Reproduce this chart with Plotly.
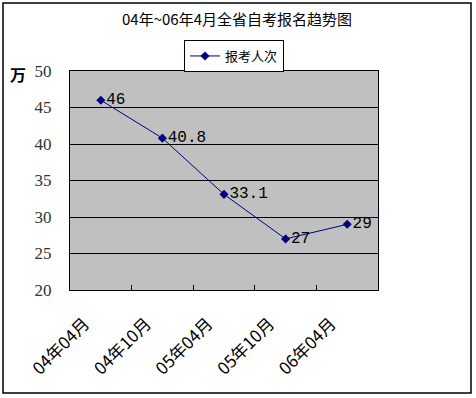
import plotly.graph_objects as go

categories = ["04年04月", "04年10月", "05年04月", "05年10月", "06年04月"]
values = [46, 40.8, 33.1, 27, 29]
labels = ["46", "40.8", "33.1", "27", "29"]
series_name = "报考人次"
title = "04年~06年4月全省自考报名趋势图"
y_ticks = [20, 25, 30, 35, 40, 45, 50]

W, H = 476, 398
L, R, T, B = 70, 378, 71, 290

fig = go.Figure()
fig.add_trace(go.Scatter(
    x=categories, y=values, mode="lines+markers+text", name=series_name,
    text=labels, textposition="middle right",
    textfont=dict(family="Liberation Mono, Noto Sans CJK SC", size=16, color="black"),
    line=dict(color="#000080", width=1),
    marker=dict(symbol="diamond", size=7, color="#000080"),
    cliponaxis=False,
))

def px(x):
    return (x - L) / (R - L)

def py(y):
    return (B - y) / (B - T)

pad = "\u00a0" * 6

fig.update_layout(
    width=W, height=H,
    margin=dict(l=L, r=W - R, t=T, b=H - B, pad=0),
    paper_bgcolor="white", plot_bgcolor="#C0C0C0",
    title=dict(text=title, x=237 / W, xanchor="center", y=1 - 20 / H, yanchor="middle",
               font=dict(family="Noto Sans CJK SC", size=15, color="black")),
    showlegend=True,
    legend=dict(orientation="h", x=px(234), xanchor="center", y=py(56), yanchor="middle",
                bordercolor="black", borderwidth=1, bgcolor="white",
                font=dict(family="Noto Sans CJK SC", size=13, color="black"),
                itemwidth=30, tracegroupgap=0),
    xaxis=dict(type="category", range=[-0.5, 4.5], tickson="boundaries", ticks="inside",
               ticklen=5, tickcolor="black", showgrid=False, showline=True, linecolor="black",
               linewidth=1, mirror=True, tickangle=-45, ticklabelstandoff=0,
               tickvals=categories, ticktext=[c + pad for c in categories],
               tickfont=dict(family="Noto Sans CJK SC", size=17, color="black")),
    yaxis=dict(range=[20, 50], tickvals=y_ticks, showgrid=True, gridcolor="black", gridwidth=1,
               showline=True, linecolor="black", linewidth=1, mirror=True, ticks="",
               ticklabelstandoff=14, zeroline=False,
               tickfont=dict(family="Liberation Serif, DejaVu Serif", size=17, color="#333333")),
    annotations=[dict(text="<b>万</b>", xref="paper", yref="paper", x=px(18), y=py(74),
                      xanchor="center", yanchor="middle", showarrow=False,
                      font=dict(family="Noto Sans CJK SC", size=16, color="black"))],
    shapes=[dict(type="rect", xref="paper", yref="paper", x0=px(3), x1=px(471),
                 y0=py(393), y1=py(3),
                 line=dict(color="black", width=1.5), layer="below")],
)

fig.write_html("out.html", config={"displayModeBar": False},
               post_script="document.body.style.margin='0';")
